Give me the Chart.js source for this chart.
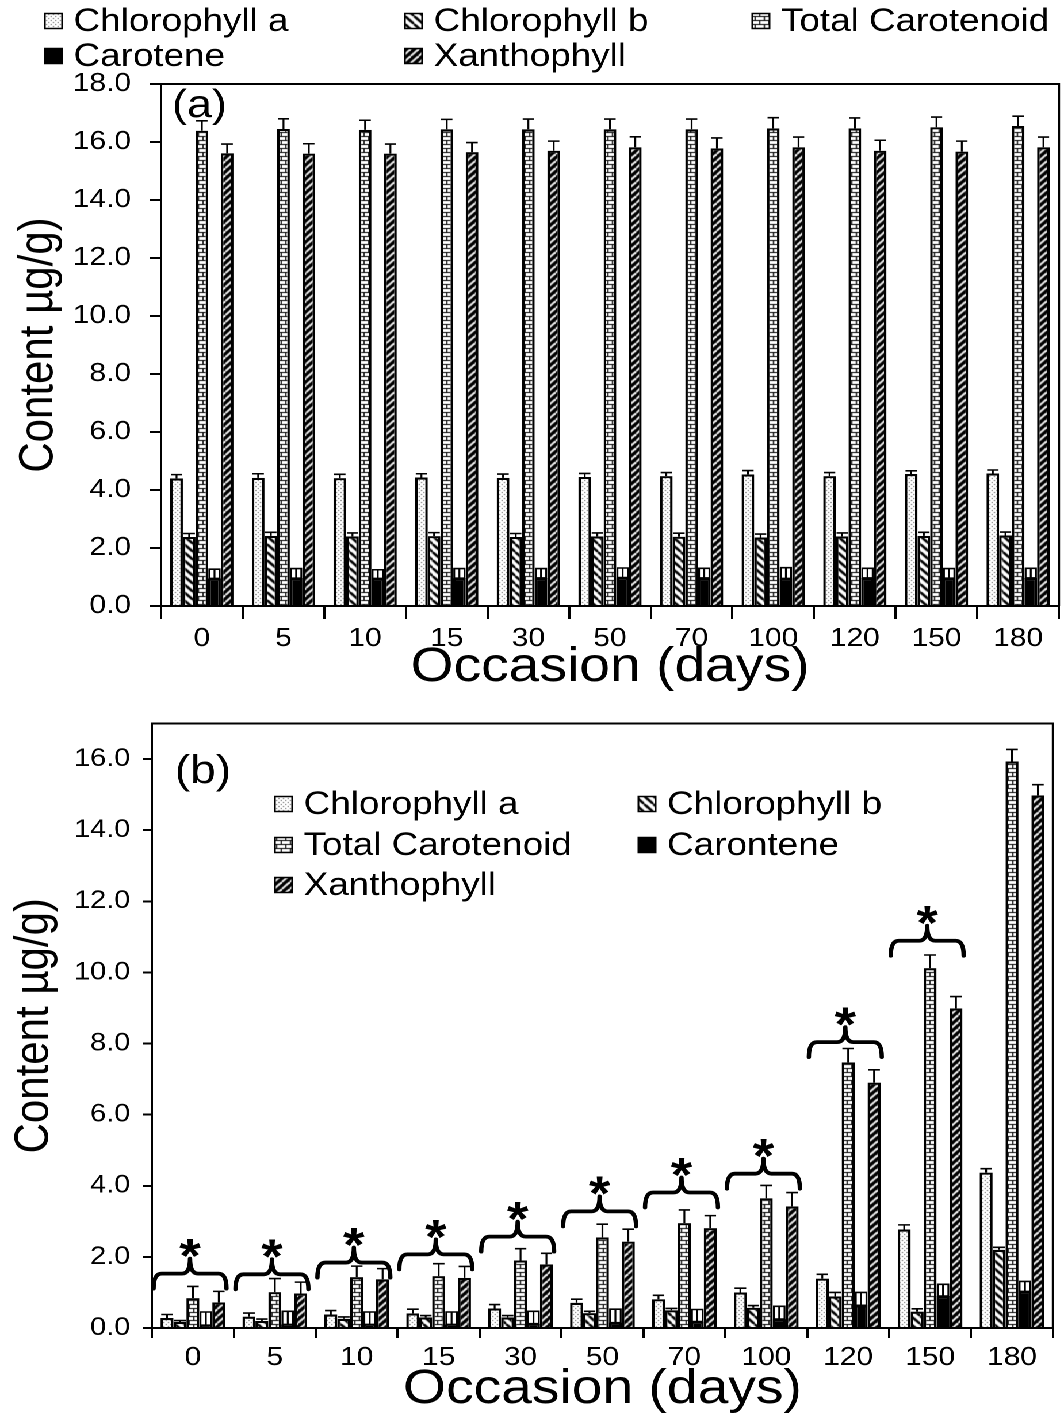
<!DOCTYPE html>
<html><head><meta charset="utf-8">
<script src="https://cdn.jsdelivr.net/npm/chart.js@4.4.1/dist/chart.umd.min.js"></script>
<style>
html,body{margin:0;padding:0;background:#fff;width:1064px;height:1416px;overflow:hidden}
#wrap{position:absolute;left:0;top:0;width:925px;height:1416px;transform:scaleX(1.15027);transform-origin:0 0;}
canvas{display:block}
</style></head><body>
<div id="wrap"><canvas id="ca" width="925" height="700"></canvas><canvas id="cb" width="925" height="716"></canvas></div>
<script>
// ---------- data ----------
const days = ['0','5','10','15','30','50','70','100','120','150','180'];
const namesA = ['Chlorophyll a','Chlorophyll b','Total Carotenoid','Carotene','Xanthophyll'];
const namesB = ['Chlorophyll a','Chlorophyll b','Total Carotenoid','Carontene','Xanthophyll'];
const yTicksA = [0,2,4,6,8,10,12,14,16,18];
const yTicksB = [0,2,4,6,8,10,12,14,16];

// panel (a)
const chlA_a      = [4.40,4.42,4.41,4.43,4.42,4.45,4.48,4.54,4.48,4.55,4.57];
const chlA_aErr   = [0.13,0.14,0.13,0.13,0.13,0.12,0.12,0.13,0.12,0.11,0.12];
const chlB_a      = [2.38,2.42,2.40,2.41,2.38,2.40,2.39,2.36,2.40,2.42,2.43];
const chlB_aErr   = [0.12,0.12,0.12,0.12,0.12,0.12,0.12,0.12,0.12,0.12,0.12];
const totCar_a    = [16.39,16.45,16.42,16.44,16.44,16.44,16.44,16.47,16.47,16.51,16.55];
const totCar_aErr = [0.34,0.35,0.33,0.34,0.35,0.35,0.35,0.37,0.36,0.35,0.34];
const carot_a     = [0.95,0.96,0.95,0.96,0.97,0.98,0.97,0.95,0.97,0.96,0.97];
const carot_aErr  = [0.32,0.33,0.30,0.33,0.32,0.33,0.33,0.37,0.33,0.33,0.33];
const xanth_a     = [15.61,15.60,15.60,15.65,15.70,15.82,15.78,15.82,15.70,15.67,15.82];
const xanth_aErr  = [0.32,0.34,0.33,0.33,0.33,0.36,0.36,0.35,0.36,0.36,0.35];

// panel (b)
const chlA_b      = [0.28,0.32,0.38,0.41,0.55,0.71,0.81,1.00,1.39,2.77,4.37];
const chlA_bErr   = [0.10,0.10,0.11,0.12,0.11,0.10,0.11,0.12,0.12,0.13,0.11];
const chlB_b      = [0.17,0.20,0.26,0.30,0.30,0.42,0.50,0.57,0.89,0.46,2.20];
const chlB_bErr   = [0.04,0.05,0.05,0.05,0.05,0.05,0.05,0.06,0.11,0.08,0.07];
const totCar_b    = [0.84,1.01,1.43,1.46,1.90,2.55,2.95,3.65,7.47,10.12,15.93];
const totCar_bErr = [0.33,0.38,0.31,0.35,0.33,0.37,0.37,0.36,0.39,0.37,0.34];
const carot_b     = [0.08,0.10,0.10,0.10,0.12,0.15,0.18,0.25,0.64,0.90,1.03];
const carot_bErr  = [0.37,0.37,0.35,0.35,0.35,0.38,0.34,0.36,0.36,0.33,0.28];
const xanth_b     = [0.72,0.97,1.37,1.41,1.79,2.43,2.81,3.42,6.90,8.99,14.98];
const xanth_bErr  = [0.31,0.32,0.30,0.32,0.31,0.35,0.35,0.39,0.36,0.33,0.30];
// significance brackets (level in µg/g) and marks
const braceLevelB = [1.53,1.51,1.84,2.07,2.57,3.28,3.81,4.34,8.04,10.89,null];
const braceMarkB  = ['*','*','*','*','*','*','*','*','*','*',''];

// ---------- styling ----------
const FONT = 'Liberation Sans, Arial, sans-serif';
Chart.defaults.font.family = FONT;
Chart.defaults.color = '#000';

function makePattern(kind) {
  if (kind === 'solid') return '#000';
  const c = document.createElement('canvas');
  const g = c.getContext('2d');
  let n = 8;
  if (kind === 'dots') {
    n = 4; c.width = c.height = n;
    g.fillStyle = '#fff'; g.fillRect(0,0,n,n);
    g.fillStyle = '#555'; g.fillRect(0,0,1,1); g.fillRect(2,2,1,1);
  } else if (kind === 'down') {
    n = 8; c.width = c.height = n;
    g.fillStyle = '#fff'; g.fillRect(0,0,n,n);
    g.strokeStyle = '#000'; g.lineWidth = 2.4;
    for (let k=-1;k<=1;k++){ g.beginPath(); g.moveTo(k*n,0); g.lineTo(k*n+n,n); g.stroke(); }
  } else if (kind === 'up') {
    n = 7; c.width = c.height = n;
    g.fillStyle = '#000'; g.fillRect(0,0,n,n);
    g.strokeStyle = '#fff'; g.lineWidth = 1.8;
    for (let k=-1;k<=1;k++){ g.beginPath(); g.moveTo(k*n,n); g.lineTo(k*n+n,0); g.stroke(); }
  } else if (kind === 'brick') {
    n = 8; c.width = c.height = n;
    g.fillStyle = '#fff'; g.fillRect(0,0,n,n);
    g.fillStyle = '#000';
    g.fillRect(0,0,n,1); g.fillRect(0,4,n,1);
    g.fillRect(0,0,1,4); g.fillRect(4,4,1,4);
  }
  return g.createPattern(c, 'repeat');
}
const patternKinds = ['dots','down','brick','solid','up'];

function buildDatasets(names, vals, errs) {
  return names.map((nm, i) => ({
    label: nm,
    data: vals[i],
    errors: errs[i],
    errStyle: i === 3 ? 'box' : 'line',
    backgroundColor: makePattern(patternKinds[i]),
    borderColor: '#000',
    borderWidth: 2.2,
    borderSkipped: 'bottom'
  }));
}

const errorBars = {
  id: 'errorBars',
  afterDatasetsDraw(chart) {
    const ctx = chart.ctx, y = chart.scales.y;
    chart.data.datasets.forEach((ds, i) => {
      const meta = chart.getDatasetMeta(i);
      meta.data.forEach((bar, j) => {
        const top = y.getPixelForValue(ds.data[j] + ds.errors[j]);
        const base = bar.y;
        ctx.save();
        ctx.strokeStyle = '#000'; ctx.lineWidth = 1.6;
        ctx.beginPath();
        if (ds.errStyle === 'box') {
          const hw = bar.width/2 - 1;
          ctx.fillStyle = '#fff';
          ctx.fillRect(bar.x - hw, top, 2*hw, base - top);
          ctx.rect(bar.x - hw, top, 2*hw, base - top);
          ctx.moveTo(bar.x, top); ctx.lineTo(bar.x, base);
        } else {
          const hw = bar.width * 0.45;
          ctx.moveTo(bar.x, base); ctx.lineTo(bar.x, top);
          ctx.moveTo(bar.x - hw, top); ctx.lineTo(bar.x + hw, top);
        }
        ctx.stroke();
        ctx.restore();
      });
    });
  }
};

const frame = {
  id: 'frame',
  afterDraw(chart) {
    const a = chart.chartArea, ctx = chart.ctx;
    ctx.save(); ctx.strokeStyle = '#000'; ctx.lineWidth = 2;
    ctx.beginPath(); ctx.moveTo(a.left, a.top); ctx.lineTo(a.right, a.top); ctx.lineTo(a.right, a.bottom); ctx.stroke();
    ctx.restore();
  }
};

function legendPlugin(names, cfg) {
  return {
    id: 'customLegend',
    afterDraw(chart) {
      const ctx = chart.ctx; ctx.save();
      ctx.font = cfg.font; ctx.textBaseline = 'middle'; ctx.textAlign = 'left';
      names.forEach((nm, i) => {
        const [bx, cy] = cfg.pos[i];
        const b = cfg.box;
        ctx.fillStyle = chart.data.datasets[i].backgroundColor;
        ctx.fillRect(bx, cy - b/2, b, b);
        ctx.strokeStyle = '#000'; ctx.lineWidth = 1.5;
        ctx.strokeRect(bx, cy - b/2, b, b);
        ctx.fillStyle = '#000';
        ctx.fillText(nm, bx + b + cfg.gap, cy + 1);
      });
      ctx.restore();
    }
  };
}

function panelLabel(text, font, x, y) {
  return {
    id: 'panelLabel',
    afterDraw(chart) {
      const ctx = chart.ctx; ctx.save();
      ctx.font = font; ctx.fillStyle = '#000'; ctx.textBaseline = 'middle'; ctx.textAlign = 'left';
      ctx.fillText(text, x, y); ctx.restore();
    }
  };
}

const braces = {
  id: 'braces',
  afterDraw(chart) {
    const ctx = chart.ctx, xs = chart.scales.x, ys = chart.scales.y;
    const cw = xs.getPixelForValue(1) - xs.getPixelForValue(0);
    ctx.save();
    ctx.strokeStyle = '#000'; ctx.lineWidth = 3.8; ctx.lineCap = 'round'; ctx.lineJoin = 'round';
    braceLevelB.forEach((lv, j) => {
      if (lv === null) return;
      const xm = xs.getPixelForValue(j) - 0.035*cw;
      const x1 = xm - 0.445*cw, x2 = xm + 0.445*cw;
      const y = ys.getPixelForValue(lv), h = 15, r = 7;
      ctx.beginPath();
      ctx.moveTo(x1, y + h);
      ctx.quadraticCurveTo(x1, y, x1 + r, y);
      ctx.lineTo(xm - r, y);
      ctx.quadraticCurveTo(xm, y, xm, y - h);
      ctx.quadraticCurveTo(xm, y, xm + r, y);
      ctx.lineTo(x2 - r, y);
      ctx.quadraticCurveTo(x2, y, x2, y + h);
      ctx.stroke();
      const fs = 48;
      ctx.font = 'bold ' + fs + 'px ' + FONT;
      ctx.fillStyle = '#000'; ctx.textAlign = 'center'; ctx.textBaseline = 'alphabetic';
      ctx.fillText(braceMarkB[j], xm, y - h - 14 + 0.57*fs);
    });
    ctx.restore();
  }
};

function axes(opt) {
  return {
    x: {
      grid: { display: true, drawOnChartArea: false, offset: true, tickLength: opt.xTickLen, color: '#000', lineWidth: 2 },
      border: { display: true, color: '#000', width: 2 },
      ticks: { font: { size: 26, lineHeight: 1 }, color: '#000', padding: opt.xPad, maxRotation: 0 },
      title: { display: true, text: 'Occasion (days)', font: { size: 48, lineHeight: 1 }, color: '#000', padding: { top: 0, bottom: opt.xTitlePad } },
      afterFit: s => { s.height = opt.xHeight; }
    },
    y: {
      min: 0, max: opt.yMax,
      afterBuildTicks: s => { s.ticks = opt.yTicks.map(v => ({ value: v })); },
      grid: { display: true, drawOnChartArea: false, tickLength: opt.yTickLen, color: '#000', lineWidth: 2 },
      border: { display: true, color: '#000', width: 2 },
      ticks: { font: { size: opt.yFont, lineHeight: 1 }, color: '#000', padding: opt.yPad, callback: v => Number(v).toFixed(1) },
      title: { display: true, text: 'Content µg/g)', font: { size: 42, lineHeight: 1 }, color: '#000', padding: { top: opt.yTitlePad, bottom: 0 } },
      afterFit: s => { s.width = opt.yWidth; }
    }
  };
}

// ---------- chart (a) ----------
new Chart(document.getElementById('ca'), {
  type: 'bar',
  data: { labels: days, datasets: buildDatasets(namesA,
    [chlA_a, chlB_a, totCar_a, carot_a, xanth_a],
    [chlA_aErr, chlB_aErr, totCar_aErr, carot_aErr, xanth_aErr]) },
  options: {
    responsive: false, animation: false, devicePixelRatio: 2,
    layout: { padding: { top: 84, right: 4.4, left: 0, bottom: 0 } },
    datasets: { bar: { categoryPercentage: 0.775, barPercentage: 1 } },
    plugins: { legend: { display: false }, tooltip: { enabled: false } },
    scales: axes({ xTickLen: 13, xPad: 7, xTitlePad: 8, xHeight: 94, yMax: 18, yTicks: yTicksA,
                   yTickLen: 9.6, yFont: 26, yPad: 16.5, yTitlePad: 13, yWidth: 140 })
  },
  plugins: [errorBars, frame,
    legendPlugin(namesA, { font: '32px ' + FONT, box: 15, gap: 10,
      pos: [[39,21],[352,21],[654,21],[39,56],[352,56]] }),
    panelLabel('(a)', '39px ' + FONT, 149.6, 106)]
});

// ---------- chart (b) ----------
new Chart(document.getElementById('cb'), {
  type: 'bar',
  data: { labels: days, datasets: buildDatasets(namesB,
    [chlA_b, chlB_b, totCar_b, carot_b, xanth_b],
    [chlA_bErr, chlB_bErr, totCar_bErr, carot_bErr, xanth_bErr]) },
  options: {
    responsive: false, animation: false, devicePixelRatio: 2,
    layout: { padding: { top: 18, right: 9.6, left: 0, bottom: 0 } },
    datasets: { bar: { categoryPercentage: 0.79, barPercentage: 1 } },
    plugins: { legend: { display: false }, tooltip: { enabled: false } },
    scales: axes({ xTickLen: 10, xPad: 7, xTitlePad: 2, xHeight: 88, yMax: 17, yTicks: yTicksB,
                   yTickLen: 8, yFont: 25, yPad: 11, yTitlePad: 9, yWidth: 132.1 })
  },
  plugins: [errorBars, frame, braces,
    legendPlugin(namesB, { font: '32px ' + FONT, box: 15, gap: 10,
      pos: [[239,104],[555,104],[239,145],[555,145],[239,185]] }),
    panelLabel('(b)', '40px ' + FONT, 152, 72)]
});
</script></body></html>
